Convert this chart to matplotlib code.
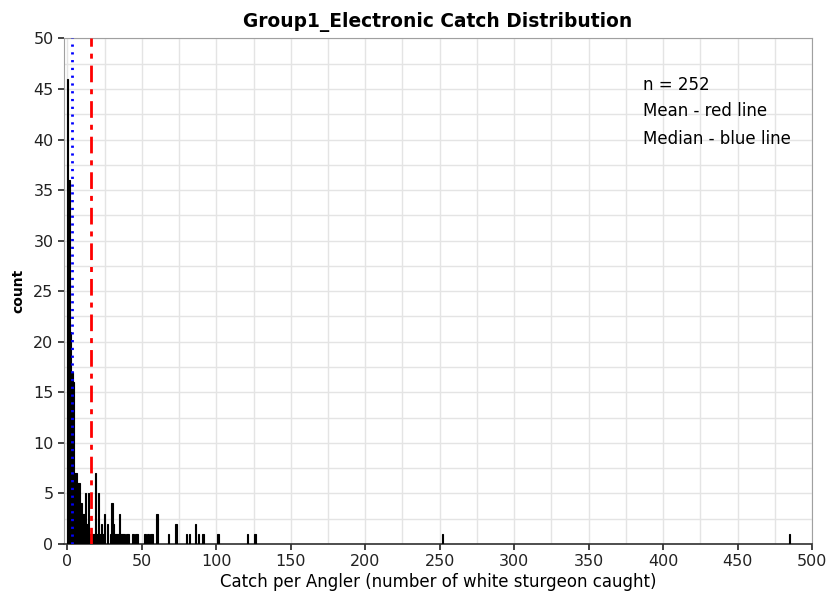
import numpy as np
import matplotlib.pyplot as plt
from matplotlib.ticker import MultipleLocator

# catch per angler value -> number of anglers
catch = [0, 1, 2, 3, 4, 5, 6, 7, 8, 9, 10, 11, 12, 13, 14, 15, 16, 17,
         18, 19, 20, 21, 22, 23, 24, 25, 27, 29, 30, 31, 32, 33, 34, 35,
         36, 37, 38, 40, 41, 44, 46, 47, 52, 54, 56, 57, 60, 68, 73, 80,
         82, 86, 88, 91, 101, 121, 126, 252, 485]
count = [46, 36, 21, 17, 16, 7, 7, 6, 6, 4, 3, 3, 5, 2, 5, 1, 1, 1,
         1, 7, 1, 5, 1, 2, 1, 3, 2, 1, 4, 2, 1, 1, 1, 3,
         1, 1, 1, 1, 1, 1, 1, 1, 1, 1, 1, 1, 3, 1, 2, 1,
         1, 2, 1, 1, 1, 1, 1, 1, 1]
n_total = 252
mean_catch = 15.5
median_catch = 3

fig = plt.figure(figsize=(8.26, 6.01), dpi=100)
ax = fig.add_axes([0.0775, 0.095, 0.9055, 0.841])

ax.bar(catch, count, width=1.0, align='center', color='black',
       edgecolor='black', linewidth=0.8, zorder=3)

ax.axvline(median_catch, color='blue', lw=2.0, ls=(0, (0.8, 2.0)), zorder=4)
ax.axvline(mean_catch, color='red', lw=2.0, ls=(0, (6, 2.5, 1.8, 2.5)), zorder=4)

ax.set_xlim(-2.3, 500)
ax.set_ylim(0, 50)
ax.xaxis.set_major_locator(MultipleLocator(50))
ax.xaxis.set_minor_locator(MultipleLocator(25))
ax.yaxis.set_major_locator(MultipleLocator(5))
ax.yaxis.set_minor_locator(MultipleLocator(2.5))
ax.grid(which='both', color='#e4e4e4', lw=1.0, zorder=0)
ax.set_axisbelow(True)

ax.tick_params(which='major', direction='out', length=4, width=1.2,
               color='#222222', labelsize=11.5, labelcolor='#222222')
ax.tick_params(which='minor', length=0)
for side in ['top', 'right', 'left']:
    ax.spines[side].set_color('#a0a0a0')
ax.spines['bottom'].set_color('#303030')
ax.spines['bottom'].set_linewidth(1.2)

ax.set_title('Group1_Electronic Catch Distribution', fontsize=13.4,
             fontweight='bold', pad=8)
ax.set_xlabel('Catch per Angler (number of white sturgeon caught)',
              fontsize=12, labelpad=3)
ax.set_ylabel('count', fontsize=10, fontweight='bold', labelpad=6)

ax.text(0.774, 0.908, 'n = ' + str(n_total), transform=ax.transAxes,
        fontsize=12, va='center')
ax.text(0.774, 0.857, 'Mean - red line', transform=ax.transAxes,
        fontsize=12, va='center')
ax.text(0.774, 0.801, 'Median - blue line', transform=ax.transAxes,
        fontsize=12, va='center')

fig.savefig('out.png', dpi=100)
